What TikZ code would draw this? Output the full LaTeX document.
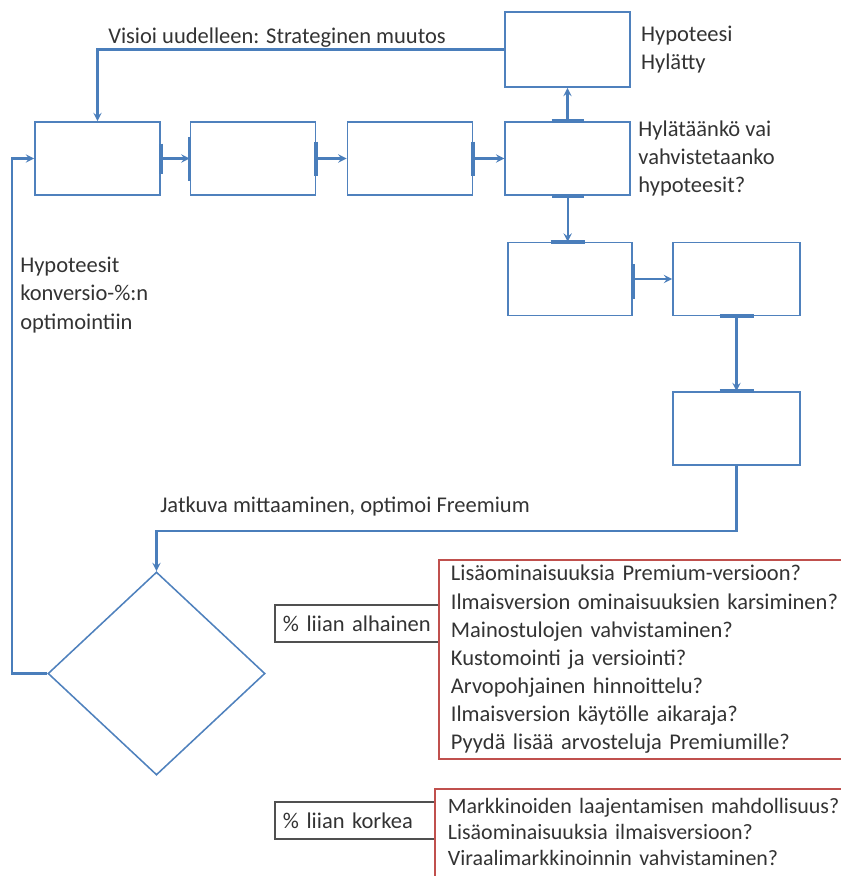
\documentclass[tikz,border=0pt]{standalone}
\usepackage{fontspec}
\setmainfont{Carlito}
\usetikzlibrary{shapes.geometric,positioning}
\definecolor{boxblue}{HTML}{4F81BD}
\definecolor{linkblue}{HTML}{4A7EBB}
\definecolor{boxred}{HTML}{C0504D}
\definecolor{boxgray}{HTML}{505050}
\definecolor{txtgray}{HTML}{333333}
\begin{document}
\begin{tikzpicture}[x=0.025cm,y=-0.025cm,>=stealth,
  font=\fontsize{16}{20}\selectfont,
  stepbox/.style={draw=boxblue,line width=1.1pt,minimum width=3.125cm,minimum height=1.825cm,inner sep=0},
  link/.style={draw=linkblue,line width=1.6pt,->},
  connbar/.style={draw=linkblue,line width=2.6pt},
  note/.style={inner sep=0,align=left,text=txtgray},
  rangebox/.style={draw=boxgray,line width=1.3pt,text=txtgray,align=left,inner xsep=0.2cm,minimum height=0.925cm},
  ideabox/.style={draw=boxred,line width=1.3pt,text=txtgray,align=left,inner xsep=0.3cm,text width=11cm}]
\useasboundingbox (0,0) rectangle (841,876);
\clip (0,0) rectangle (841,876);
% top row
\node[stepbox] (box1) at (97.5,158.5) {};
\node[stepbox,right=0.72cm of box1] (box2) {};
\node[stepbox,right=0.76cm of box2] (box3) {};
\node[stepbox,right=0.78cm of box3] (box4) {};
\node[stepbox,minimum height=1.875cm] (hyp) at (567.5,49.5) {};
% second row
\node[stepbox,minimum width=3.1cm] (box5) at (570,279) {};
\node[stepbox,minimum width=3.175cm] (box6) at (736.5,279) {};
\node[stepbox,minimum width=3.175cm] (box7) at (736.5,428.5) {};
\node[draw=boxblue,line width=1.1pt,diamond,minimum width=5.425cm,minimum height=5.075cm,inner sep=0] (dia) at (156.5,673.5) {};
% labels
\node[note,right=0.25cm of hyp] (hyplbl) {Hypoteesi\\Hylätty};
\node[note,right=0.18cm of box4] (asklbl) {Hylätäänkö vai\\vahvistetaanko\\hypoteesit?};
\node[note,anchor=west] (convlbl) at (20,295) {Hypoteesit\\konversio-\%:n\\optimointiin};
\node[note,anchor=base west] (visiolbl) at (108,43) {Visioi uudelleen: Strateginen muutos};
\node[note,anchor=base west] (measlbl) at (160,512) {Jatkuva mittaaminen, optimoi Freemium};
% connectors
\draw[link] (hyp.west) -| (box1.north);
\draw[link] (box1.east) -- (box2.west);
\draw[link] (box2.east) -- (box3.west);
\draw[link] (box3.east) -- (box4.west);
\draw[link] (hyp.south |- box4.north) -- (hyp.south);
\draw[link] (box4.south) -- (box4.south |- box5.north);
\draw[link] (box5.east) -- (box6.west);
\draw[link] (box6.south) -- (box7.north);
\draw[link] (box7.south) -- ++(0,65) -| (dia.north);
\draw[link] (dia.west) -- ++(-35,0) |- (box1.west);
% connection marks
\draw[connbar] (box1.east) ++(0,-15) -- ++(0,30);
\draw[connbar] (box2.west) ++(0,-22) -- ++(0,44);
\draw[connbar] (box2.east) ++(0,-17) -- ++(0,34);
\draw[connbar] (box3.east) ++(0,-17) -- ++(0,34);
\draw[connbar] (hyp.south |- box4.north) ++(-16,0) -- ++(32,0);
\draw[connbar] (box4.south) ++(-16,0) -- ++(32,0);
\draw[connbar] (box4.south |- box5.north) ++(-17,0) -- ++(34,0);
\draw[connbar] (box5.east) ++(0,-15) -- ++(0,35);
\draw[connbar] (box6.south) ++(-17,0) -- ++(34,0);
\draw[connbar] (box7.north) ++(-17,0) -- ++(34,0);
% ranges
\node[rangebox,text width=3.7cm] (low) at (357,623.5) {\% liian alhainen};
\node[rangebox,text width=3.6cm] (high) at (355,820.5) {\% liian korkea};
\node[ideabox,anchor=north west,minimum height=4.975cm] (lowideas) at (438,559) {Lisäominaisuuksia Premium-versioon?\\Ilmaisversion ominaisuuksien karsiminen?\\Mainostulojen vahvistaminen?\\Kustomointi ja versiointi?\\Arvopohjainen hinnoittelu?\\Ilmaisversion käytölle aikaraja?\\Pyydä lisää arvosteluja Premiumille?};
\node[ideabox,draw=none,anchor=north west,inner ysep=0.2cm,font=\fontsize{15.6}{18.5}\selectfont] (highideas) at (435,789) {Markkinoiden laajentamisen mahdollisuus?\\Lisäominaisuuksia ilmaisversioon?\\Viraalimarkkinoinnin vahvistaminen?};
\draw[boxred,line width=1.3pt] (highideas.north west) rectangle ++(450,120);
\end{tikzpicture}
\end{document}
